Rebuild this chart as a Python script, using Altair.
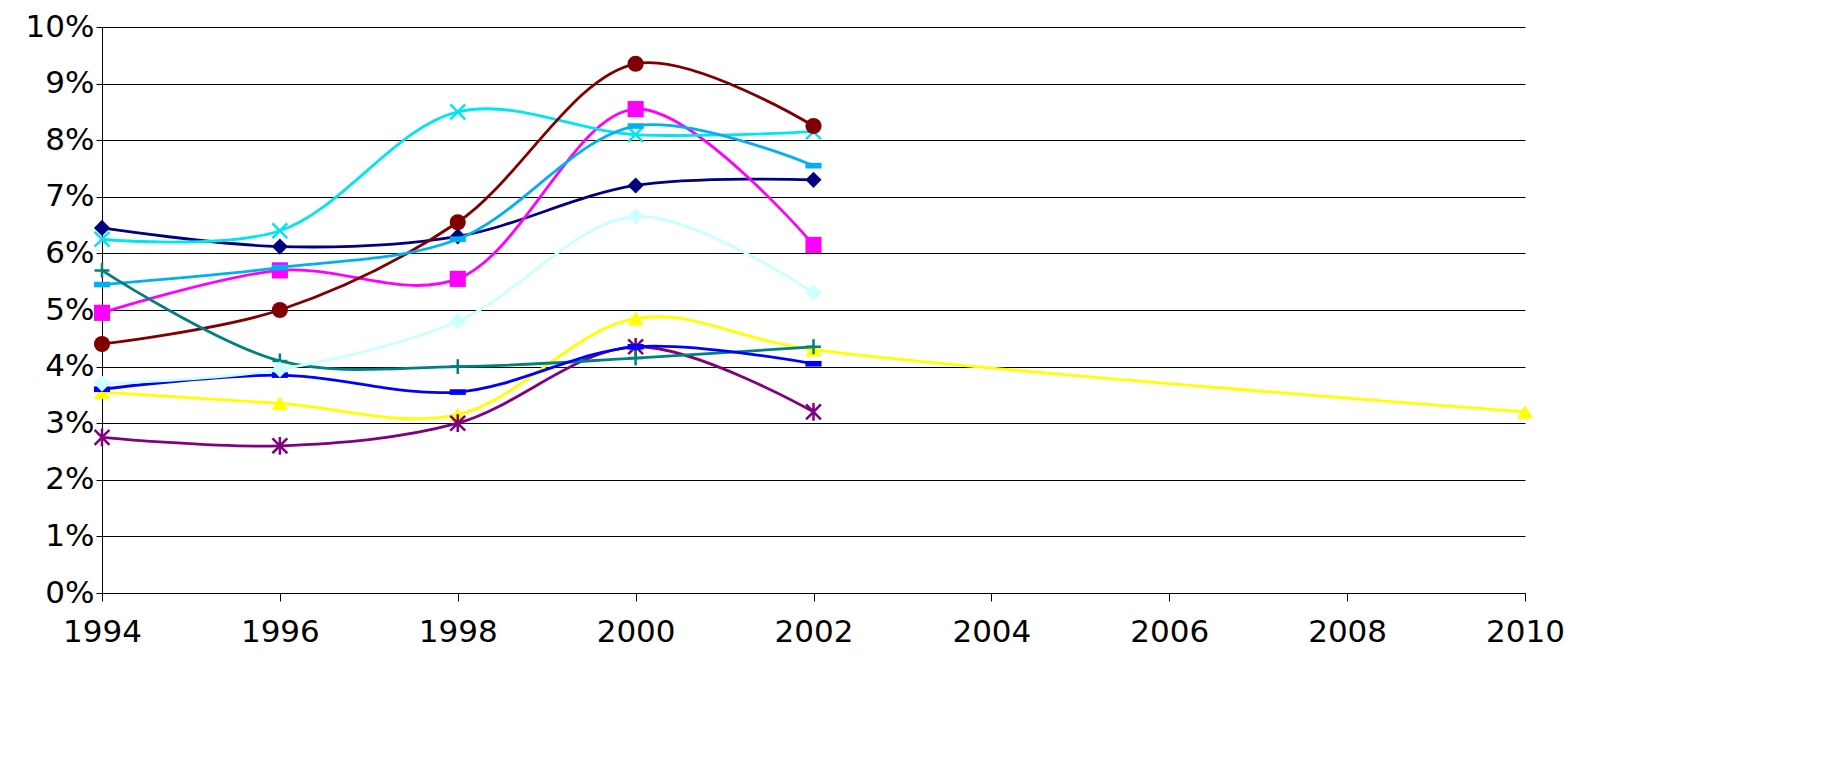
import altair as alt
import pandas as pd

years = [1994, 1996, 1998, 2000, 2002]
s_navy = [6.45, 6.12, 6.3, 7.2, 7.3]
s_magenta = [4.95, 5.7, 5.55, 8.55, 6.15]
s_yellow = [3.55, 3.35, 3.15, 4.85, 4.3]
s_yellow_years = [1994, 1996, 1998, 2000, 2002, 2010]
s_yellow_full = s_yellow + [3.2]
s_cyan = [6.25, 6.4, 8.5, 8.1, 8.15]
s_purple = [2.75, 2.6, 3.0, 4.35, 3.2]
s_darkred = [4.4, 5.0, 6.55, 9.35, 8.25]
s_skyblue = [5.45, 5.75, 6.25, 8.25, 7.55]
s_teal = [5.7, 4.1, 4.0, 4.15, 4.35]
s_blue = [3.6, 3.85, 3.55, 4.35, 4.05]
s_pale = [3.7, 3.95, 4.8, 6.65, 5.3]

X_PATH = "M-1,-1L1,1M1,-1L-1,1"
AST_PATH = "M-1,-1L1,1M1,-1L-1,1M0,-1.2L0,1.2"
PLUS_PATH = "M-1,0L1,0M0,-1L0,1"
DASH_PATH = "M-1,-0.35H1V0.35H-1Z"

series = [
    ("navy", years, s_navy, "#000080", "diamond", True),
    ("magenta", years, s_magenta, "#ff00ff", "square", True),
    ("yellow", s_yellow_years, s_yellow_full, "#ffff00", "triangle-up", True),
    ("cyan", years, s_cyan, "#00e5ee", X_PATH, False),
    ("purple", years, s_purple, "#800080", AST_PATH, False),
    ("darkred", years, s_darkred, "#800000", "circle", True),
    ("skyblue", years, s_skyblue, "#00b0f0", DASH_PATH, True),
    ("teal", years, s_teal, "#008080", PLUS_PATH, False),
    ("blue", years, s_blue, "#0000ff", DASH_PATH, True),
    ("pale", years, s_pale, "#ccffff", "diamond", True),
]

xs = alt.Scale(domain=[1994, 2010])
ys = alt.Scale(domain=[0, 0.10])
xax = alt.Axis(values=list(range(1994, 2011, 2)), format="d", grid=False, labelFontSize=31,
               labelFont="DejaVu Sans", labelColor="black", domainColor="black", tickColor="black",
               tickSize=8, labelPadding=16, labelFlush=False, labelOverlap=False, title=None)
yax = alt.Axis(values=[i / 100 for i in range(11)], format=".0%", grid=True, gridColor="black",
               labelFontSize=31, labelFont="DejaVu Sans", labelColor="black", domainColor="black",
               tickColor="black", tickSize=6, labelFlush=False, labelOverlap=False, title=None)

layers = []
for name, yr, vals, col, shape, filled in series:
    df = pd.DataFrame({"year": yr, "v": [v / 100 for v in vals]})
    base = alt.Chart(df)
    layers.append(base.mark_line(color=col, strokeWidth=2.8, interpolate="catmull-rom").encode(
        x=alt.X("year:Q", scale=xs, axis=xax), y=alt.Y("v:Q", scale=ys, axis=yax)))
    if filled:
        pm = base.mark_point(shape=shape, filled=True, color=col, size=260, opacity=1)
    else:
        pm = base.mark_point(shape=shape, filled=False, color=col, size=220, strokeWidth=2.5, opacity=1)
    layers.append(pm.encode(x=alt.X("year:Q", scale=xs), y=alt.Y("v:Q", scale=ys)))

chart = alt.layer(*layers).properties(
    width=1423, height=566,
    autosize=alt.AutoSizeParams(type="none"),
    padding={"left": 94, "top": 19, "right": 290, "bottom": 160},
).configure_view(stroke=None)

chart.save("out.html", embed_options={"renderer": "svg", "actions": False})
